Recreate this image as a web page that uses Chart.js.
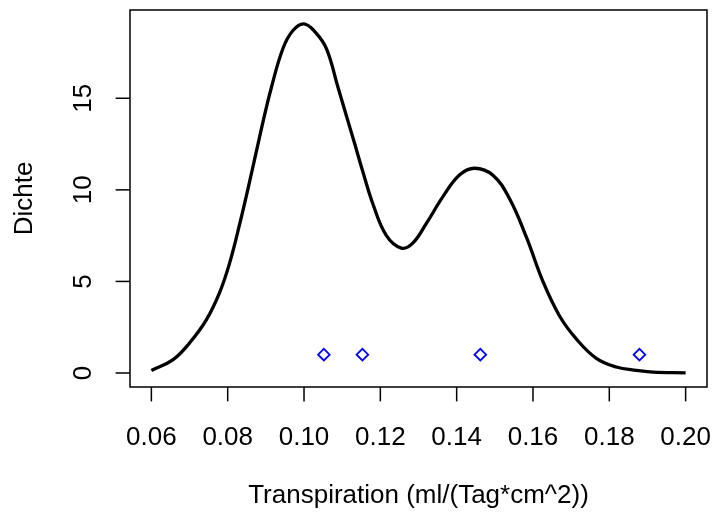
<!DOCTYPE html>
<html>
<head>
<meta charset="utf-8">
<script src="https://cdn.jsdelivr.net/npm/chart.js@4.4.1/dist/chart.umd.min.js"></script>
<style>
  body { margin: 0; background: #fff; }
  canvas { display: block; }
</style>
</head>
<body>
<canvas id="chart" width="717" height="517"></canvas>
<script>
// density curve
const densX = [0.0600, 0.0657, 0.0700, 0.0744, 0.0779, 0.0805, 0.0831, 0.0858, 0.0888, 0.0914,
  0.0945, 0.0971, 0.1000, 0.1030, 0.1059, 0.1089, 0.1111, 0.1133, 0.1154, 0.1181,
  0.1216, 0.1255, 0.1285, 0.1321, 0.1364, 0.1408, 0.1447, 0.1495, 0.1539, 0.1583,
  0.1626, 0.1670, 0.1714, 0.1766, 0.1818, 0.1871, 0.1914, 0.2000];
const densY = [0.14, 0.73, 1.64, 2.9, 4.4, 6.0, 8.1, 10.5, 13.3, 15.55,
  17.73, 18.7, 19.06, 18.6, 17.7, 15.6, 14.05, 12.5, 11.0, 9.2,
  7.5, 6.82, 7.09, 8.18, 9.63, 10.82, 11.18, 10.8, 9.5, 7.4,
  5.0, 3.1, 1.85, 0.8, 0.33, 0.14, 0.05, 0.01];

// observations drawn as blue diamonds
const obsX = [0.1052, 0.1153, 0.1462, 0.1879];
const obsY = [1, 1, 1, 1];

const xTicks = [0.06, 0.08, 0.10, 0.12, 0.14, 0.16, 0.18, 0.20];
const xTickLabels = ['0.06', '0.08', '0.10', '0.12', '0.14', '0.16', '0.18', '0.20'];
const yTicks = [0, 5, 10, 15];
const yTickLabels = ['0', '5', '10', '15'];

const xTitle = 'Transpiration (ml/(Tag*cm^2))';
const yTitle = 'Dichte';

const FONT = '26px "Liberation Sans", Arial, sans-serif';

// R style frame, ticks and labels, placed with the chart's own scales
const rAxes = {
  id: 'rAxes',
  afterDraw(chart) {
    const { ctx, chartArea: a, scales: { x, y } } = chart;
    ctx.save();
    ctx.strokeStyle = '#000';
    ctx.fillStyle = '#000';
    ctx.lineWidth = 1.5;
    ctx.strokeRect(a.left, a.top, a.right - a.left, a.bottom - a.top);

    ctx.font = FONT;
    ctx.textAlign = 'center';
    ctx.textBaseline = 'alphabetic';
    xTicks.forEach((v, i) => {
      const px = x.getPixelForValue(v);
      ctx.beginPath();
      ctx.moveTo(px, a.bottom);
      ctx.lineTo(px, a.bottom + 14.4);
      ctx.stroke();
      ctx.fillText(xTickLabels[i], px, 445);
    });
    ctx.fillText(xTitle, (a.left + a.right) / 2, 503);

    yTicks.forEach((v, i) => {
      const py = y.getPixelForValue(v);
      ctx.beginPath();
      ctx.moveTo(a.left, py);
      ctx.lineTo(a.left - 14.4, py);
      ctx.stroke();
      ctx.save();
      ctx.translate(91, py);
      ctx.rotate(-Math.PI / 2);
      ctx.fillText(yTickLabels[i], 0, 0);
      ctx.restore();
    });
    ctx.save();
    ctx.translate(32, (a.top + a.bottom) / 2);
    ctx.rotate(-Math.PI / 2);
    ctx.fillText(yTitle, 0, 0);
    ctx.restore();
    ctx.restore();
  }
};

new Chart(document.getElementById('chart').getContext('2d'), {
  type: 'scatter',
  data: {
    datasets: [
      {
        label: 'Beobachtungen',
        data: obsX.map((v, i) => ({ x: v, y: obsY[i] })),
        pointStyle: 'rectRot',
        pointRadius: 5.8,
        pointBorderWidth: 1.8,
        pointBorderColor: '#0000ff',
        pointBackgroundColor: 'rgba(0,0,0,0)',
        showLine: false
      },
      {
        label: 'Dichte',
        data: densX.map((v, i) => ({ x: v, y: densY[i] })),
        showLine: true,
        borderColor: '#000',
        borderWidth: 3.3,
        pointRadius: 0,
        tension: 0.4,
        fill: false
      }
    ]
  },
  options: {
    responsive: false,
    animation: false,
    layout: { padding: { left: 130, right: 10, top: 10, bottom: 130 } },
    plugins: { legend: { display: false }, tooltip: { enabled: false } },
    scales: {
      x: { type: 'linear', min: 0.0544, max: 0.2056, display: false },
      y: { type: 'linear', min: -0.764, max: 19.82, display: false }
    }
  },
  plugins: [rAxes]
});
</script>
</body>
</html>
